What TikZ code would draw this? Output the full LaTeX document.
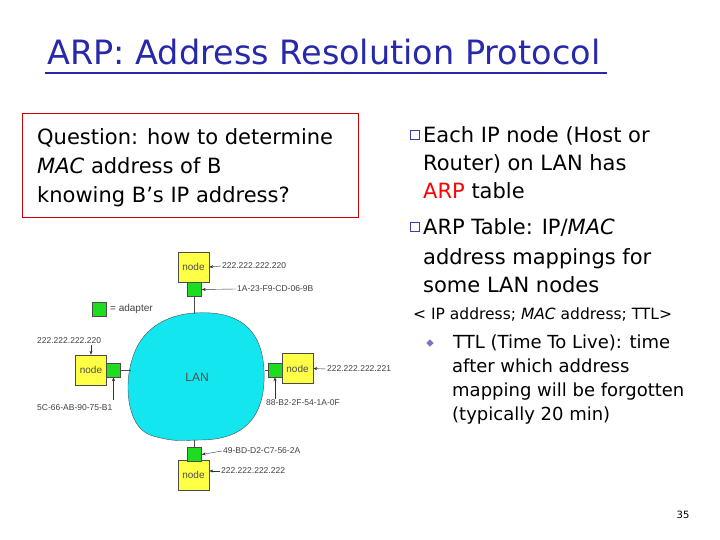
\documentclass[tikz,border=0pt]{standalone}
\usepackage{fontspec}
\setmainfont{DejaVu Sans}
\newfontfamily\arial{Liberation Sans}
\usetikzlibrary{arrows.meta}
\definecolor{ttl}{RGB}{40,40,170}
\definecolor{lanc}{RGB}{20,230,240}
\definecolor{ylw}{RGB}{255,255,70}
\definecolor{grn}{RGB}{30,220,30}
\definecolor{bul}{RGB}{60,60,170}
\tikzset{
  host/.style={draw=black!70,fill=ylw,minimum width=31pt,minimum height=30pt,inner sep=0pt,font=\arial\fontsize{10}{10}\selectfont,text=black!70},
  adapt/.style={draw=black!70,fill=grn,minimum size=14pt,inner sep=0pt},
  lbl/.style={font=\arial\fontsize{8.5}{9}\selectfont,text=black!75,inner sep=1pt},
  arr/.style={-{Stealth[length=4pt,width=3pt]},black!80},
  body/.style={font=\fontsize{21}{28}\selectfont,anchor=base west,inner sep=0pt},
  sub/.style={font=\fontsize{18}{24}\selectfont,anchor=base west,inner sep=0pt},
  bull/.style={draw=bul,fill=white,minimum size=9pt,inner sep=0pt},
}
\begin{document}
\begin{tikzpicture}[x=1pt,y=-1pt]
\useasboundingbox (0,0) rectangle (720,540);
% title
\node[anchor=base west,inner sep=0pt,text=ttl,font=\fontsize{33.5}{36}\selectfont] (title) at (47,65) {ARP: Address Resolution Protocol};
\draw[ttl,line width=1.2pt] (45,73) -- (607,73);
% question box
\node[draw=red!80!black,line width=1.2pt,minimum width=336pt,minimum height=104pt,anchor=north west] (qbox) at (22,113) {};
\node[body] (q1) at (37,145) {Question: how to determine};
\node[body] (q2) at (37,174) {\itshape MAC\upshape\ address of B};
\node[body] (q3) at (37,203) {knowing B’s IP address?};
% bullets
\node[bull] (b1) at (415,135) {};
\node[body] (t1) at (423,143) {Each IP node (Host or};
\node[body] (t2) at (423,171) {Router) on LAN has};
\node[body] (t3) at (423,199) {\textcolor{red}{ARP} table};
\node[bull] (b2) at (415,227) {};
\node[body] (t4) at (423,235) {ARP Table: IP/\itshape MAC};
\node[body] (t5) at (423,264) {address mappings for};
\node[body] (t6) at (423,292) {some LAN nodes};
\node[sub,font=\fontsize{15.5}{16}\selectfont] (t7) at (413,319) {< IP address; \itshape MAC\upshape\ address; TTL>};
\node[fill=bul!70,inner sep=0pt,minimum size=5pt,rotate=45] (d1) at (430,343) {};
\node[sub] (s1) at (453,348) {TTL (Time To Live): time};
\node[sub] (s2) at (452,372) {after which address};
\node[sub] (s3) at (452,396) {mapping will be forgotten};
\node[sub] (s4) at (452,420) {(typically 20 min)};
\node[font=\fontsize{10}{10}\selectfont] (pg) at (683,515) {35};
% LAN blob
\draw[black!70,fill=lanc] (194,313) .. controls (240,310) and (262,330) .. (264,370)
  .. controls (266,410) and (250,440) .. (200,440)
  .. controls (185,440) and (175,443) .. (150,435)
  .. controls (125,425) and (125,380) .. (132,360)
  .. controls (140,330) and (165,315) .. (194,313) -- cycle;
\node[font=\arial\fontsize{12}{12}\selectfont,text=black!70] (lan) at (197,377) {LAN};
% hosts
\node[host] (nt) at (193.5,267) {node};
\node[adapt] (at) at (194.5,289.5) {};
\node[host] (nl) at (91,370) {node};
\node[adapt] (al) at (113.5,370) {};
\node[host] (nr) at (297.5,368.5) {node};
\node[adapt] (ar) at (275,370) {};
\node[host] (nb) at (193.5,475) {node};
\node[adapt] (ab) at (194.5,454.5) {};
\coordinate (bt) at (194.5,314);
\coordinate (bl) at (131,370);
\coordinate (br) at (265,370);
\coordinate (bb) at (194.5,440);
\draw[black!70] (at) -- (bt) (al) -- (bl) (ar) -- (br) (ab) -- (bb);
% legend
\node[adapt] (leg) at (99,309) {};
\node[lbl,anchor=west,font=\arial\fontsize{10}{10}\selectfont] (legt) at (109,309) {= adapter};
% labels
\node[lbl,anchor=west] (l1) at (221,266) {222.222.222.220};
\draw[arr] (l1.west) -- (nt.east);
\node[lbl,anchor=west] (l2) at (236,289) {1A-23-F9-CD-06-9B};
\draw[arr] (l2.west) -- (at.east);
\node[lbl,anchor=west] (l3) at (36,341) {222.222.222.220};
\draw[arr] (nl.north|-l3.south) -- (nl.north);
\node[lbl,anchor=west] (l4) at (36,408) {5C-66-AB-90-75-B1};
\draw[arr] (al.south|-l4.north) ++(0,-4) -- (al.south);
\node[lbl,anchor=west] (l5) at (326,369) {222.222.222.221};
\draw[arr] (l5.west) -- (nr.east);
\node[lbl,anchor=west] (l6) at (265,403) {88-B2-2F-54-1A-0F};
\draw[arr] (ar.south|-l6.north) -- (ar.south);
\node[lbl,anchor=west] (l7) at (222,451) {49-BD-D2-C7-56-2A};
\draw[arr] (l7.west) -- (ab.east);
\node[lbl,anchor=west] (l8) at (220,471) {222.222.222.222};
\draw[arr] (l8.west) -- (nb.east|-l8.west);
\end{tikzpicture}
\end{document}
